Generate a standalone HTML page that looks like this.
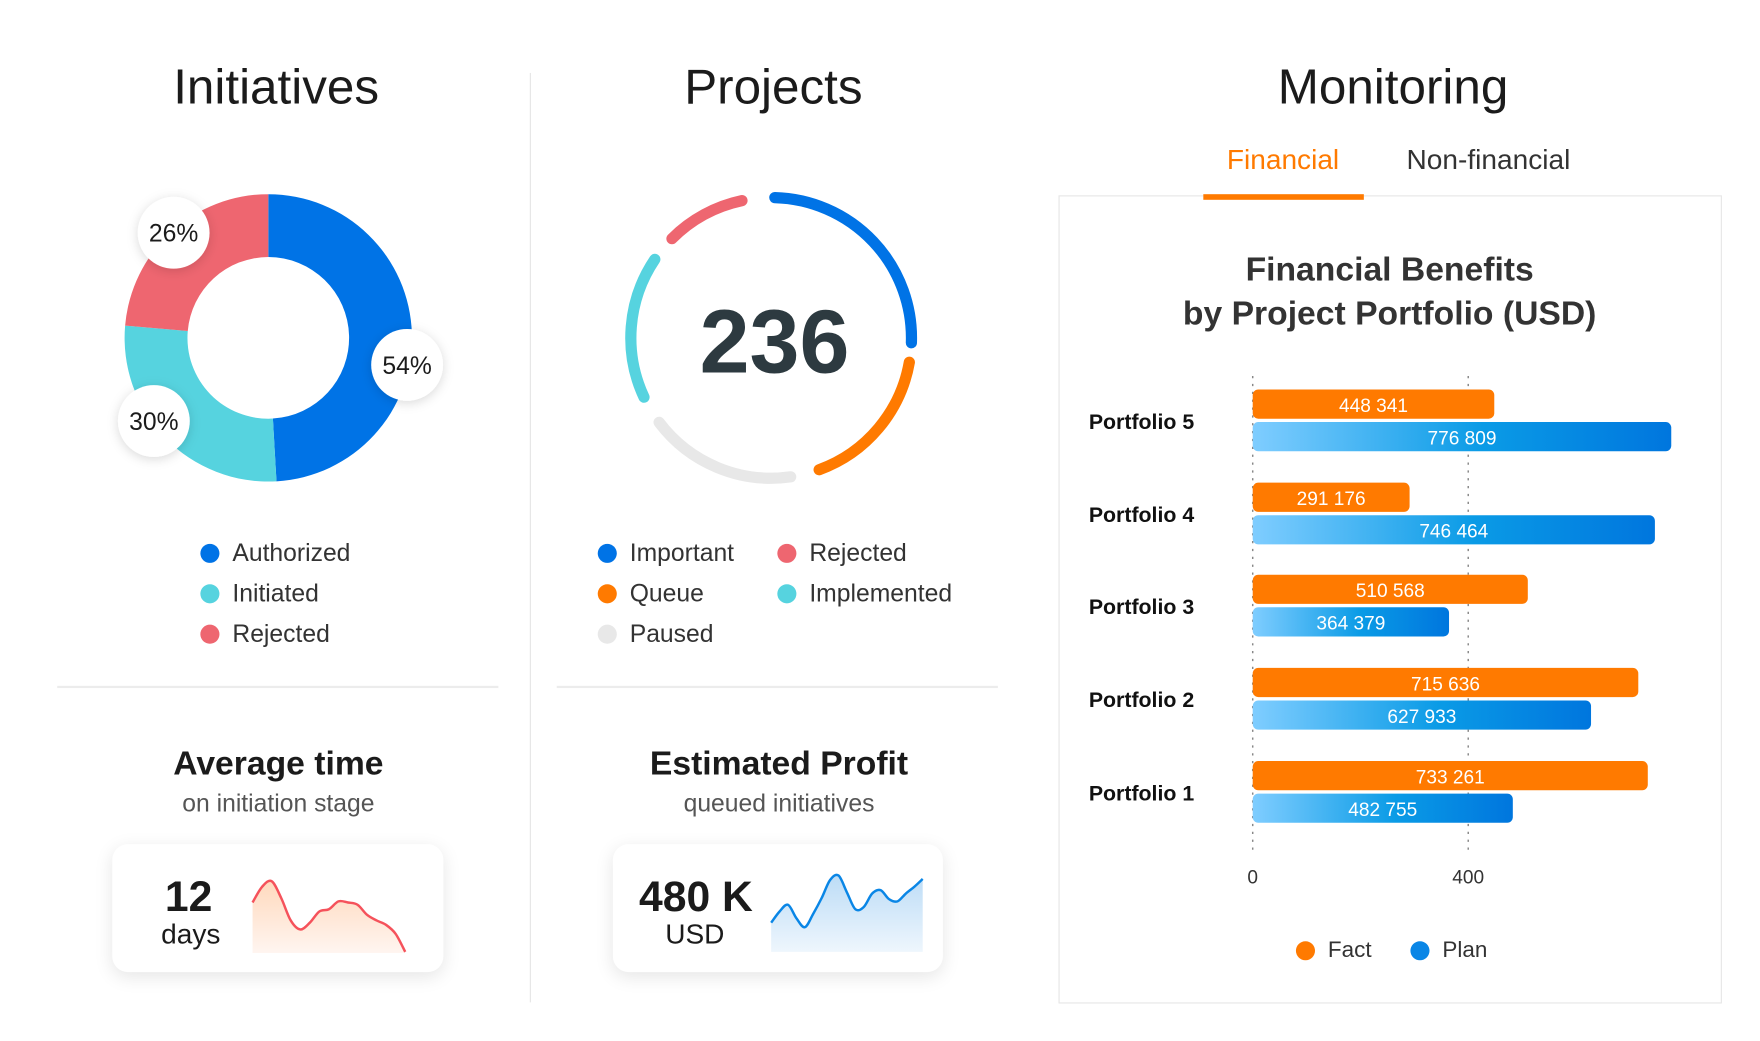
<!DOCTYPE html>
<html><head><meta charset="utf-8"><style>
html,body{margin:0;padding:0;background:#fff;width:1760px;height:1040px;overflow:hidden}
#wrap{position:absolute;left:0;top:0;width:1568px;height:927px;transform:scale(1.1225);transform-origin:0 0;font-family:"Liberation Sans",sans-serif;color:#1b1b1b}
.abs{position:absolute}
.t{position:absolute;white-space:nowrap;transform:translate(-50%,-50%)}
.l{position:absolute;white-space:nowrap;transform:translateY(-50%)}
.dot{position:absolute;width:17px;height:17px;border-radius:50%;transform:translate(-50%,-50%)}
.card{position:absolute;background:#fff;border-radius:14px;box-shadow:0 4px 16px rgba(0,0,0,0.10)}
#svg{z-index:2}
</style></head><body><div id="wrap">
<div class="t" style="left:246px;top:78px;font-size:44px">Initiatives</div>
<div class="t" style="left:689px;top:78px;font-size:44px">Projects</div>
<div class="t" style="left:1241px;top:78px;font-size:44px">Monitoring</div>
<div class="abs" style="left:472px;top:65px;width:1px;height:828px;background:#e6e6e6"></div>
<div class="abs" style="left:51px;top:611px;width:393px;height:2px;background:#ececec"></div>
<div class="abs" style="left:496px;top:611px;width:393px;height:2px;background:#ececec"></div>

<div class="t" style="left:1143px;top:143px;font-size:25px;color:#ff7a00">Financial</div>
<div class="t" style="left:1326px;top:143px;font-size:25px;color:#333">Non-financial</div>
<div class="abs" style="left:943px;top:174px;width:589px;height:718px;border:1.5px solid #e6e6e6"></div>
<div class="abs" style="left:1072px;top:173px;width:143px;height:5px;background:#ff7a00"></div>
<div class="t" style="left:1238px;top:241px;font-size:30px;color:#333;font-weight:bold">Financial Benefits</div>
<div class="t" style="left:1238px;top:280px;font-size:30px;color:#333;font-weight:bold">by Project Portfolio (USD)</div>

<div class="dot" style="left:187px;top:493px;background:#0073e6"></div>
<div class="l" style="left:207px;top:493px;font-size:22px;color:#333">Authorized</div>
<div class="dot" style="left:187px;top:529px;background:#56d3df"></div>
<div class="l" style="left:207px;top:529px;font-size:22px;color:#333">Initiated</div>
<div class="dot" style="left:187px;top:565px;background:#ee6670"></div>
<div class="l" style="left:207px;top:565px;font-size:22px;color:#333">Rejected</div>

<div class="t" style="left:690px;top:305px;font-size:80px;font-weight:bold;color:#2d3a40">236</div>
<div class="dot" style="left:541px;top:493px;background:#0073e6"></div>
<div class="l" style="left:561px;top:493px;font-size:22px;color:#333">Important</div>
<div class="dot" style="left:701px;top:493px;background:#ee6670"></div>
<div class="l" style="left:721px;top:493px;font-size:22px;color:#333">Rejected</div>
<div class="dot" style="left:541px;top:529px;background:#ff7a00"></div>
<div class="l" style="left:561px;top:529px;font-size:22px;color:#333">Queue</div>
<div class="dot" style="left:701px;top:529px;background:#56d3df"></div>
<div class="l" style="left:721px;top:529px;font-size:22px;color:#333">Implemented</div>
<div class="dot" style="left:541px;top:565px;background:#e8e8e8"></div>
<div class="l" style="left:561px;top:565px;font-size:22px;color:#333">Paused</div>

<div class="t" style="left:248px;top:681px;font-size:30px;font-weight:bold">Average time</div>
<div class="t" style="left:248px;top:716px;font-size:22px;color:#555">on initiation stage</div>
<div class="t" style="left:694px;top:681px;font-size:30px;font-weight:bold">Estimated Profit</div>
<div class="t" style="left:694px;top:716px;font-size:22px;color:#555">queued initiatives</div>
<div class="card" style="left:100px;top:752px;width:295px;height:114px"></div>
<div class="card" style="left:546px;top:752px;width:294px;height:114px"></div>
<div class="t" style="left:168px;top:800px;font-size:38px;font-weight:bold;z-index:3">12</div>
<div class="t" style="left:170px;top:833px;font-size:25px;z-index:3">days</div>
<div class="t" style="left:620px;top:800px;font-size:38px;font-weight:bold;z-index:3">480 K</div>
<div class="t" style="left:619px;top:833px;font-size:25px;z-index:3">USD</div>

<div class="dot" style="left:1163px;top:847px;background:#ff7a00"></div>
<div class="l" style="left:1183px;top:847px;font-size:20px;color:#333">Fact</div>
<div class="dot" style="left:1265px;top:847px;background:#0a86e6"></div>
<div class="l" style="left:1285px;top:847px;font-size:20px;color:#333">Plan</div>

<svg id="svg" class="abs" style="left:0;top:0" width="1568" height="927">
<defs>
<linearGradient id="bg" x1="0" x2="1" y1="0" y2="0"><stop offset="0" stop-color="#7fcdff"/><stop offset="0.55" stop-color="#0a9be6"/><stop offset="1" stop-color="#0076de"/></linearGradient>
<linearGradient id="rf" x1="0" x2="0" y1="0" y2="1"><stop offset="0" stop-color="#ffd9bd"/><stop offset="1" stop-color="#fff5f0"/></linearGradient>
<linearGradient id="bf" x1="0" x2="0" y1="0" y2="1"><stop offset="0" stop-color="#bcdcf6"/><stop offset="1" stop-color="#eef6fd"/></linearGradient>
<filter id="sh" x="-50%" y="-50%" width="200%" height="200%"><feDropShadow dx="0" dy="2" stdDeviation="5" flood-color="#000" flood-opacity="0.15"/></filter>
</defs>
</svg>

<script>
const NS='http://www.w3.org/2000/svg';
const svg=document.getElementById('svg');
function mk(tag,attrs,parent){const e=document.createElementNS(NS,tag);for(const k in attrs)e.setAttribute(k,attrs[k]);(parent||svg).appendChild(e);return e;}

// Initiatives donut
const initCats=['Authorized','Initiated','Rejected'];
const initVals=[54,30,26];
const initColors=['#0073e6','#56d3df','#ee6670'];
// Projects ring segments (start/end in degrees clockwise from top)
const projCats=['Important','Queue','Paused','Implemented','Rejected'];
const projStart=[1.5,100,172,245,315];
const projEnd=[92,160,233,304,348];
const projColors=['#0073e6','#ff7a00','#e8e8e8','#56d3df','#ee6670'];
// Bar chart
const portfolios=['Portfolio 5','Portfolio 4','Portfolio 3','Portfolio 2','Portfolio 1'];
const factVals=[448341,291176,510568,715636,733261];
const planVals=[776809,746464,364379,627933,482755];
const factLabels=['448 341','291 176','510 568','715 636','733 261'];
const planLabels=['776 809','746 464','364 379','627 933','482 755'];
const xTicks=[0,400000];
const xTickLabels=['0','400'];
// Sparklines
const daysSeries=[30,44,49,34,14,6,12,22,24,31,30,28,19,14,10,2,-14];
const profitSeries=[-4,6,12,0,-8,4,18,34,38,23,8,10,22,25,17,15,22,28,35];

function pt(cx,cy,r,deg){const a=(deg-90)*Math.PI/180;return [cx+r*Math.cos(a),cy+r*Math.sin(a)];}
function arcPath(cx,cy,r,a0,a1){const p0=pt(cx,cy,r,a0),p1=pt(cx,cy,r,a1);const lg=(a1-a0)>180?1:0;return `M${p0[0]},${p0[1]} A${r},${r} 0 ${lg} 1 ${p1[0]},${p1[1]}`;}

// donut
const dcx=239,dcy=301,ro=128,ri=72;
const tot=initVals.reduce((a,b)=>a+b,0);
let acc=0;
initVals.forEach((v,i)=>{
  const a0=acc/tot*360, a1=(acc+v)/tot*360; acc+=v;
  const o0=pt(dcx,dcy,ro,a0),o1=pt(dcx,dcy,ro,a1),i1=pt(dcx,dcy,ri,a1),i0=pt(dcx,dcy,ri,a0);
  const lg=(a1-a0)>180?1:0;
  const p=mk('path',{d:`M${o0[0]},${o0[1]} A${ro},${ro} 0 ${lg} 1 ${o1[0]},${o1[1]} L${i1[0]},${i1[1]} A${ri},${ri} 0 ${lg} 0 ${i0[0]},${i0[1]}Z`,fill:initColors[i]});
  
  
});
const labelAngles=[101,234,318];
initVals.forEach((v,i)=>{
  const pos=pt(dcx,dcy,126,labelAngles[i]);
  const g=mk('g',{});
  
  
  mk('circle',{cx:pos[0],cy:pos[1],r:32,fill:'#fff',filter:'url(#sh)'},g);
  const t=mk('text',{x:pos[0],y:pos[1]+8,'text-anchor':'middle','font-size':22,'font-family':'Liberation Sans, sans-serif',fill:'#1b1b1b'},g);
  t.textContent=v+'%';
});

// project ring
projCats.forEach((c,i)=>{
  const p=mk('path',{d:arcPath(687,301,125,projStart[i],projEnd[i]),fill:'none',stroke:projColors[i],'stroke-width':10,'stroke-linecap':'round'});
  
  
});

// bar chart
const X0=1116, PX=0.48/1000;
function xs(v){return X0+v*PX;}
const rowY=[347,430,512,595,678];
xTicks.forEach((t,i)=>{
  const l=mk('line',{x1:xs(t),x2:xs(t),y1:335,y2:757,stroke:'#888','stroke-width':1.3,'stroke-dasharray':'2,5'});
  
  
  const tx=mk('text',{x:xs(t),y:787,'text-anchor':'middle','font-size':17,'font-family':'Liberation Sans, sans-serif',fill:'#333'});
  tx.textContent=xTickLabels[i];
  
  
});
portfolios.forEach((p,i)=>{
  const y=rowY[i];
  const lab=mk('text',{x:970,y:y+35,'font-size':19,'font-weight':'bold','font-family':'Liberation Sans, sans-serif',fill:'#111'});
  lab.textContent=p;
  
  
  const fw=xs(factVals[i])-X0, pw=xs(planVals[i])-X0;
  const fb=mk('rect',{x:X0,y:y,width:fw,height:26,rx:5,fill:'#ff7a00'});
  
  
  const ft=mk('text',{x:X0+fw/2,y:y+20,'text-anchor':'middle','font-size':17,'font-family':'Liberation Sans, sans-serif',fill:'#fff'});
  ft.textContent=factLabels[i];
  
  
  const pb=mk('rect',{x:X0,y:y+29,width:pw,height:26,rx:5,fill:'url(#bg)'});
  
  
  const pt2=mk('text',{x:X0+pw/2,y:y+49,'text-anchor':'middle','font-size':17,'font-family':'Liberation Sans, sans-serif',fill:'#fff'});
  pt2.textContent=planLabels[i];
  
  
});

// sparklines
function smooth(pts){let d=`M${pts[0][0]},${pts[0][1]}`;for(let i=0;i<pts.length-1;i++){const p0=pts[i-1]||pts[i],p1=pts[i],p2=pts[i+1],p3=pts[i+2]||p2;const c1=[p1[0]+(p2[0]-p0[0])/6,p1[1]+(p2[1]-p0[1])/6],c2=[p2[0]-(p3[0]-p1[0])/6,p2[1]-(p3[1]-p1[1])/6];d+=` C${c1[0]},${c1[1]} ${c2[0]},${c2[1]} ${p2[0]},${p2[1]}`;}return d;}
function spark(series,x0,x1,yBase,yScale,base,stroke,fill,name){
  const pts=series.map((v,i)=>[x0+(x1-x0)*i/(series.length-1),yBase-v*yScale]);
  const d=smooth(pts);
  const a=mk('path',{d:d+` L${x1},${base} L${x0},${base}Z`,fill:fill});
  
  
  const l=mk('path',{d:d,fill:'none',stroke:stroke,'stroke-width':2.2});
  
  
}
spark(daysSeries,225,361,834,1.0,849,'#f5525b','url(#rf)','days-sparkline');
spark(profitSeries,687,822,818,1.0,848,'#0a86e6','url(#bf)','profit-sparkline');
</script>
</div></body></html>
